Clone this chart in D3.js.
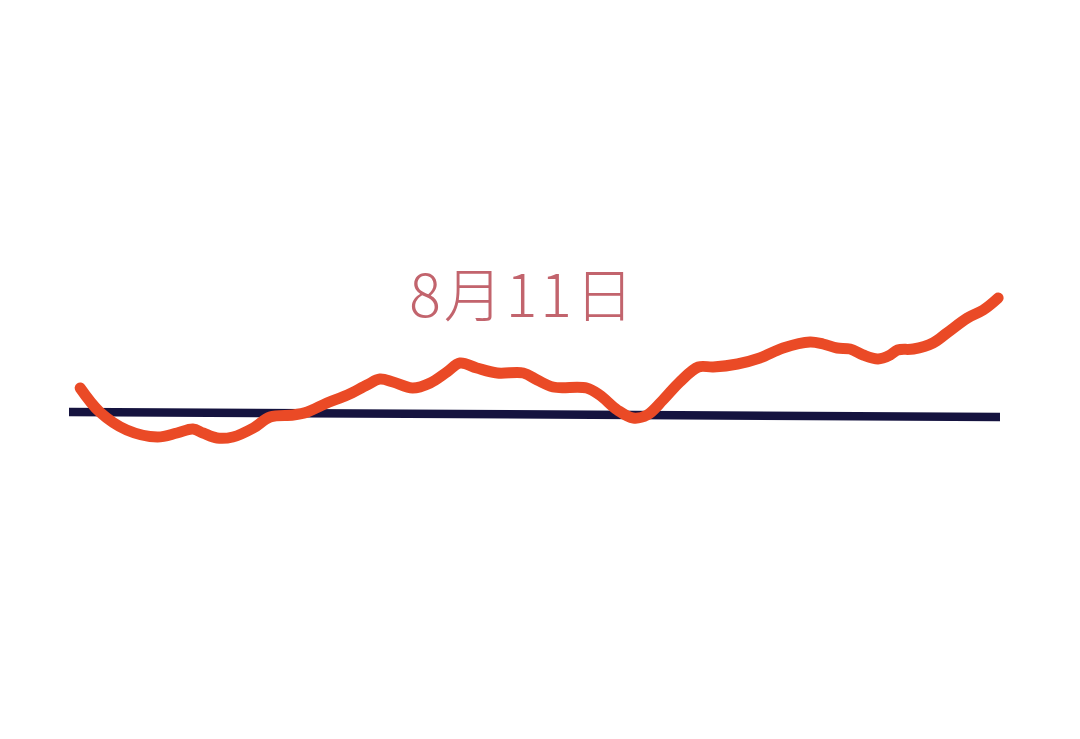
<!DOCTYPE html>
<html>
<head>
<meta charset="utf-8">
<script src="https://cdn.jsdelivr.net/npm/d3@7"></script>
<style>
    html, body { margin: 0; padding: 0; background: #fff; }
    svg { display: block; }
</style>
</head>
<body>
<div id="chart"></div>
<script>
// ============================================================================
// 8月11日 - hand-drawn style trend line over a flat reference line
// ============================================================================

const TITLE = '8月11日';

// Trend line (time position 0-100, relative level)
const trendX = [1.2, 3.3, 6.2, 9.5, 11.6, 13.3, 14.4, 15.9, 17.6, 19.8, 21.6, 24.1, 25.6, 27.7,
    29.9, 32.0, 33.4, 34.8, 36.9, 38.8, 40.6, 42.0, 43.8, 46.0, 48.8, 50.3, 52.0, 55.6,
    57.0, 58.9, 60.6, 62.1, 63.8, 65.6, 67.6, 69.2, 71.8, 74.2, 76.7, 79.6, 81.0, 82.5,
    83.9, 85.3, 86.9, 88.2, 89.0, 90.7, 92.8, 94.3, 96.5, 98.2, 99.8];
const trendY = [12, 0, -9, -12.5, -10.5, -8.5, -10.5, -13, -12.5, -8, -2.5, -1.5, 0, 4.5,
    8.5, 13.5, 16.5, 15, 12, 14.5, 20, 24.5, 22, 19.5, 19.5, 16, 12.5, 12,
    8.5, 1, -3, -1.5, 6, 15, 22.5, 22.5, 24, 27, 32, 35, 34, 32,
    31.5, 28.5, 26.5, 28.5, 31, 31.5, 34.5, 39.5, 47, 51, 57];

// Reference line
const refX = [0, 100];
const refY = [0, -2.5];

const COLORS = { trend: '#ea4a26', ref: '#15133f', title: '#c2646d' };

const width = 1080;
const height = 739;

const xScale = d3.scaleLinear().domain([0, 100]).range([69, 1000]);
const yScale = d3.scaleLinear().domain([-50, 100]).range([512, 212]);

const svg = d3.select('#chart').append('svg')
    .attr('width', width)
    .attr('height', height);

const line = d3.line()
    .x(d => xScale(d.x))
    .y(d => yScale(d.y));

// Reference line
const refData = refX.map((x, i) => ({ x, y: refY[i] }));
svg.append('path')
    .datum(refData)
    .attr('fill', 'none')
    .attr('stroke', COLORS.ref)
    .attr('stroke-width', 8.5)
    .attr('d', line);

// Trend line
const trendData = trendX.map((x, i) => ({ x, y: trendY[i] }));
svg.append('path')
    .datum(trendData)
    .attr('fill', 'none')
    .attr('stroke', COLORS.trend)
    .attr('stroke-width', 11)
    .attr('stroke-linecap', 'round')
    .attr('stroke-linejoin', 'round')
    .attr('d', line.curve(d3.curveCatmullRom.alpha(0.5)));

// Title
svg.append('text')
    .attr('x', 523)
    .attr('y', 317)
    .attr('text-anchor', 'middle')
    .attr('fill', COLORS.title)
    .attr('font-family', '"Noto Sans CJK SC", "Noto Sans", sans-serif')
    .attr('font-weight', 300)
    .attr('font-size', 59)
    .attr('letter-spacing', 3)
    .text(TITLE);
</script>
</body>
</html>
